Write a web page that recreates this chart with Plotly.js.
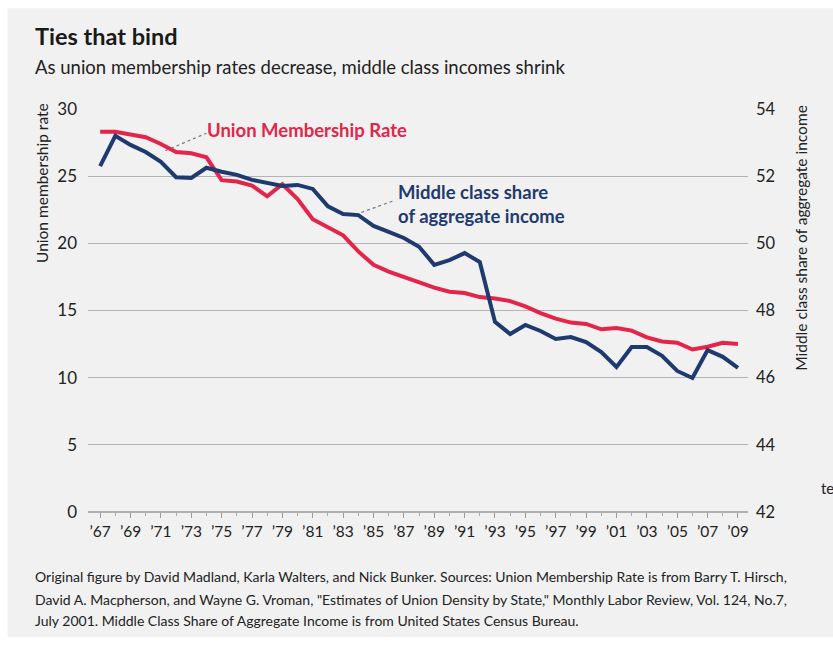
<!DOCTYPE html>
<html>
<head>
<meta charset="utf-8">
<script src="https://cdn.plot.ly/plotly-3.0.1.min.js"></script>
<style>
html,body{margin:0;padding:0;background:#fff;}
#chart{width:833px;height:645px;}
</style>
</head>
<body>
<div id="chart"></div>
<script>
const years = [1967,1968,1969,1970,1971,1972,1973,1974,1975,1976,1977,1978,1979,1980,1981,1982,1983,1984,1985,1986,1987,1988,1989,1990,1991,1992,1993,1994,1995,1996,1997,1998,1999,2000,2001,2002,2003,2004,2005,2006,2007,2008,2009];
const unionRate = [28.3,28.3,28.1,27.9,27.4,26.8,26.7,26.4,24.7,24.6,24.3,23.5,24.4,23.3,21.8,21.2,20.6,19.4,18.4,17.9,17.5,17.1,16.7,16.4,16.3,16.0,15.9,15.7,15.3,14.8,14.4,14.1,14.0,13.6,13.7,13.5,13.0,12.7,12.6,12.1,12.3,12.6,12.5];
const middleShare = [52.30,53.20,52.93,52.72,52.43,51.97,51.95,52.25,52.13,52.04,51.89,51.80,51.71,51.74,51.62,51.10,50.87,50.84,50.52,50.34,50.16,49.90,49.36,49.50,49.71,49.44,47.66,47.30,47.57,47.39,47.15,47.21,47.06,46.76,46.32,46.91,46.91,46.65,46.20,45.99,46.82,46.62,46.29];
const xTickVals = [1967,1969,1971,1973,1975,1977,1979,1981,1983,1985,1987,1989,1991,1993,1995,1997,1999,2001,2003,2005,2007,2009];
const xTickText = ["\u201967","\u201969","\u201971","\u201973","\u201975","\u201977","\u201979","\u201981","\u201983","\u201985","\u201987","\u201989","\u201991","\u201993","\u201995","\u201997","\u201999","\u201901","\u201903","\u201905","\u201907","\u201909"];
const leftTicks = [0,5,10,15,20,25,30];
const rightTicks = [42,44,46,48,50,52,54];
const footnoteLines = [
  'Original figure by David Madland, Karla Walters, and Nick Bunker. Sources: Union Membership Rate is from Barry T. Hirsch,',
  'David A. Macpherson, and Wayne G. Vroman, "Estimates of Union Density by State," Monthly Labor Review, Vol. 124, No.7,',
  'July 2001. Middle Class Share of Aggregate Income is from United States Census Bureau.'
];

const RED = '#e3254a';
const NAVY = '#1f3a6e';
const FONT = 'Lato, "Open Sans", sans-serif';

const traces = [
  {x: years, y: middleShare, yaxis: 'y2', type: 'scatter', mode: 'lines',
   line: {color: NAVY, width: 4}, name: 'Middle class share of aggregate income'},
  {x: years, y: unionRate, yaxis: 'y', type: 'scatter', mode: 'lines',
   line: {color: RED, width: 4}, name: 'Union Membership Rate'}
];

const footY = [-0.161, -0.216, -0.268];
const footAnns = footnoteLines.map((t, i) => ({
  xref: 'paper', yref: 'paper', x: -0.083, y: footY[i], xanchor: 'left', yanchor: 'middle',
  text: t, showarrow: false, font: {family: FONT, size: 14, color: '#222'}
}));

const layout = {
  width: 833, height: 645,
  paper_bgcolor: '#ffffff',
  plot_bgcolor: 'rgba(0,0,0,0)',
  showlegend: false,
  margin: {l: 88, r: 85, t: 109, b: 133},
  font: {family: FONT, color: '#222', size: 15},
  xaxis: {
    range: [1966.2, 2009.66], tickvals: xTickVals, ticktext: xTickText,
    ticks: 'outside', ticklen: 5, tickcolor: '#999', tickwidth: 1,
    minor: {dtick: 1, tick0: 1967, ticks: 'outside', ticklen: 3, tickcolor: '#aaa', showgrid: false},
    showgrid: false, zeroline: false, showline: false,
    tickfont: {family: FONT, size: 15.5, color: '#222'}, fixedrange: true
  },
  yaxis: {
    range: [0, 30], tickvals: leftTicks, showgrid: true, gridcolor: '#b4b4b4', gridwidth: 1.3,
    zeroline: false, showline: false, ticks: '', ticklabelstandoff: 10,
    tickfont: {family: FONT, size: 17, color: '#222'}, fixedrange: true
  },
  yaxis2: {
    range: [42, 54], tickvals: rightTicks, overlaying: 'y', side: 'right',
    showgrid: false, zeroline: false, showline: false, ticks: '', ticklabelstandoff: 7,
    tickfont: {family: FONT, size: 16.5, color: '#222'}, fixedrange: true
  },
  shapes: [
    {type: 'rect', xref: 'paper', yref: 'paper', x0: -0.122, x1: 1.13, y0: -0.31, y1: 1.25,
     fillcolor: '#f1f1f1', line: {width: 0}, layer: 'below'},
    {type: 'line', xref: 'paper', yref: 'paper', x0: 0, x1: 1, y0: 0, y1: 0,
     line: {color: '#9a9a9a', width: 1.3}},
    {type: 'line', xref: 'x', yref: 'y', x0: 1971.3, y0: 26.9, x1: 1974.0, y1: 28.2,
     line: {color: '#777', width: 1.2, dash: 'dot'}},
    {type: 'line', xref: 'x', yref: 'y', x0: 1984.2, y0: 22.3, x1: 1986.4, y1: 23.2,
     line: {color: '#777', width: 1.2, dash: 'dot'}}
  ],
  annotations: [
    {xref: 'paper', yref: 'paper', x: -0.083, y: 1.181, xanchor: 'left', yanchor: 'middle',
     text: 'Ties that bind', showarrow: false, font: {family: FONT, size: 23.5, color: '#1a1a1a', weight: 'bold'}},
    {xref: 'paper', yref: 'paper', x: -0.083, y: 1.105, xanchor: 'left', yanchor: 'middle',
     text: 'As union membership rates decrease, middle class incomes shrink', showarrow: false,
     font: {family: FONT, size: 18.5, color: '#222'}},
    {xref: 'paper', yref: 'paper', x: -0.07, y: 0.816, xanchor: 'center', yanchor: 'middle', textangle: -90,
     text: 'Union membership rate', showarrow: false, font: {family: FONT, size: 15.5, color: '#222'}},
    {xref: 'paper', yref: 'paper', x: 1.08, y: 0.68, xanchor: 'center', yanchor: 'middle', textangle: -90,
     text: 'Middle class share of aggregate income', showarrow: false, font: {family: FONT, size: 15.5, color: '#222'}},
    {xref: 'x', yref: 'y', x: 1973.9, y: 28.4, xanchor: 'left', yanchor: 'middle',
     text: 'Union Membership Rate', showarrow: false, font: {family: FONT, size: 18.5, color: RED, weight: 'bold'}},
    {xref: 'x', yref: 'y', x: 1986.5, y: 22.9, xanchor: 'left', yanchor: 'middle', align: 'left',
     text: 'Middle class share<br>of aggregate income', showarrow: false,
     font: {family: FONT, size: 18.5, color: NAVY, weight: 'bold'}},
    {xref: 'paper', yref: 'paper', x: 1.108, y: 0.06, xanchor: 'left', yanchor: 'middle',
     text: 'te', showarrow: false, font: {family: FONT, size: 15, color: '#222'}}
  ].concat(footAnns)
};

Plotly.newPlot('chart', traces, layout, {displayModeBar: false, staticPlot: true});
</script>
</body>
</html>
